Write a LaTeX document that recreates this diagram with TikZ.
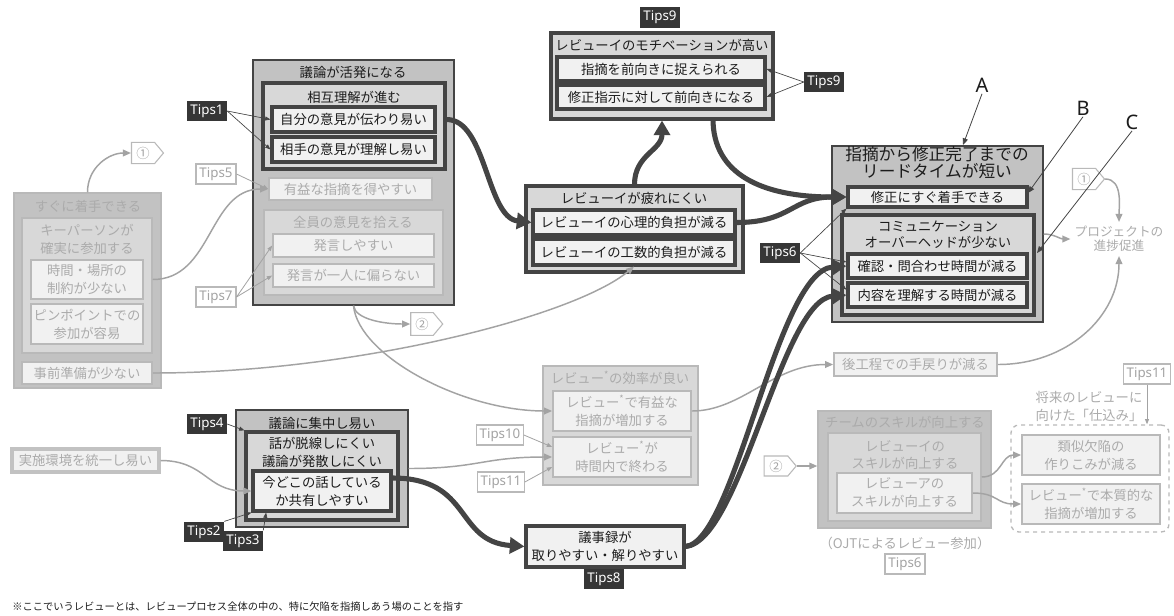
\documentclass[tikz,border=0pt]{standalone}
\usepackage{fontspec}
\setmainfont{Noto Sans CJK JP}
\newfontfamily\latinf{Noto Sans}
\usetikzlibrary{fit,arrows.meta,shapes.symbols}
\definecolor{gA}{HTML}{C2C2C2}
\definecolor{gB}{HTML}{D8D8D8}
\definecolor{gC}{HTML}{F1F1F1}
\definecolor{dk}{HTML}{444444}
\definecolor{tx}{HTML}{1C1C1C}
\definecolor{fT}{HTML}{ABABAB}
\definecolor{fB}{HTML}{B9B9B9}
\definecolor{fL}{HTML}{A3A3A3}
\definecolor{tipbg}{HTML}{363636}
\tikzset{
  bx/.style={inner sep=0pt, align=center, font=\fontsize{10}{13.5}\selectfont, text=tx},
  grpD/.style={bx, fill=gA, draw=dk, line width=1.1pt},
  midD/.style={bx, fill=gB, draw=dk, line width=2.3pt},
  leafD/.style={bx, fill=gC, draw=dk, line width=2.3pt},
  grpF/.style={bx, fill=gA, draw=fB, line width=1.1pt, text=fT},
  midF/.style={bx, fill=gB, draw=fB, line width=1.1pt, text=fT},
  leafF/.style={bx, fill=gC, draw=fB, line width=1.3pt, text=fT},
  ttl/.style={inner sep=0pt, align=center, font=\fontsize{10}{13.5}\selectfont, text=tx},
  ttlF/.style={ttl, text=fT},
  tipD/.style={fill=tipbg, text=white, font=\latinf\fontsize{10}{11}\selectfont, inner sep=0pt, minimum width=30pt, minimum height=15.5pt},
  tipL/.style={fill=white, draw=fB, line width=0.8pt, text=fL, font=\latinf\fontsize{10}{11}\selectfont, inner sep=0pt, minimum width=30pt, minimum height=15pt},
  tagbox/.style={signal, signal to=east, signal pointer angle=100, draw=fB, fill=white, text=fL, line width=0.8pt, inner sep=1pt, minimum width=24pt, minimum height=16pt, font=\fontsize{10}{11}\selectfont},
  tarr/.style={draw=dk, line width=3.8pt, -{Triangle[length=11pt,width=12pt]}},
  garr/.style={draw=fL, line width=1.1pt, -{Triangle[length=6pt,width=5pt]}},
  tl/.style={draw=dk, line width=0.5pt, -{Triangle[length=4pt,width=3pt]}},
  tlF/.style={draw=fL, line width=0.6pt, -{Triangle[length=4pt,width=3pt]}},
  labl/.style={font=\latinf\fontsize{15}{16}\selectfont, text=tx, inner sep=1pt},
}
% box by corners, with its text centred in a separate named node
\newcommand\bxn[5]{\node[#1, fit={#3 #4}] (#2) {};
  \node[#1, draw=none, fill=none] (#2t) at (#2.center) {#5};}
\begin{document}
\begin{tikzpicture}[x=0.75pt,y=-0.75pt]
\fill[white] (0,0) rectangle (1174,615);
\useasboundingbox (0,0) rectangle (1174,615);

% ---- left faded group
\node[grpF, fit={(14,193) (161,388)}] (grpA) {};
\node[ttlF] (grpAt) at (88,206) {すぐに着手できる};
\node[midF, fit={(22,218) (152,353)}] (keyb) {};
\node[ttlF] (keybt) at (87,239) {キーパーソンが\\確実に参加する};
\bxn{leafF}{jikan}{(31,260)}{(143,299)}{時間・場所の\\制約が少ない}
\bxn{leafF}{pin}{(31,304)}{(143,344)}{ピンポイントでの\\参加が容易}
\bxn{leafF}{jizen}{(22,362)}{(152,384)}{事前準備が少ない}
\node[tagbox] (tag1a) at (143,153) {①};

% ---- 議論が活発になる
\node[grpD, fit={(253,60) (454,305)}] (grpB) {};
\node[ttl] (grpBt) at (353,72) {議論が活発になる};
\node[midD, fit={(263,83) (445,169)}] (sogo) {};
\node[ttl] (sogot) at (354,97) {相互理解が進む};
\bxn{leafD}{jibun}{(272,107)}{(435,132)}{自分の意見が伝わり易い}
\bxn{leafD}{aite}{(272,137)}{(435,162)}{相手の意見が理解し易い}
\bxn{leafF}{yueki}{(269,178)}{(432,200)}{有益な指摘を得やすい}
\node[midF, fit={(264,210) (443,295)}] (zenin) {};
\node[ttlF] (zenint) at (353,222) {全員の意見を拾える};
\bxn{leafF}{hatsu1}{(273,234)}{(434,257)}{発言しやすい}
\bxn{leafF}{hatsu2}{(273,264)}{(434,287)}{発言が一人に偏らない}
\node[tipD] (t1) at (207,111) {Tips1};
\node[tipL] (t5) at (216,174) {Tips5};
\node[tipL] (t7) at (216,297) {Tips7};
\node[tagbox, minimum height=17pt] (tag2a) at (422,324) {②};

% ---- モチベーション
\node[midD, fit={(551,33) (773,119)}] (moti) {};
\node[ttl] (motit) at (662,45) {レビューイのモチベーションが高い};
\bxn{leafD}{shiteki}{(557,57)}{(765,81)}{指摘を前向きに捉えられる}
\bxn{leafD}{shusei}{(557,85)}{(765,109)}{修正指示に対して前向きになる}
\node[tipD] (t9top) at (660,17.5) {Tips9};
\node[tipD] (t9r) at (824,82) {Tips9};

% ---- 疲れにくい
\node[midD, fit={(526,186) (743,272)}] (tsukare) {};
\node[ttl] (tsukaret) at (634,198) {レビューイが疲れにくい};
\bxn{leafD}{shinri}{(533,210)}{(735,235)}{レビューイの心理的負担が減る}
\bxn{leafD}{kosu}{(533,239)}{(735,265)}{レビューイの工数的負担が減る}
\node[tipD] (t6d) at (780,253) {Tips6};

% ---- リードタイム
\node[grpD, fit={(832,146) (1043,322)}] (big) {};
\node[ttl, font=\fontsize{12.5}{10.5}\selectfont] (bigt) at (937,163) {指摘から修正完了までの\\リードタイムが短い};
\bxn{leafD}{sugu}{(848,187)}{(1027,207)}{修正にすぐ着手できる}
\node[midD, fit={(842,215) (1034,315)}] (comm) {};
\node[ttl, font=\fontsize{10}{12}\selectfont] (commt) at (938,235) {コミュニケーション\\オーバーヘッドが少ない};
\bxn{leafD}{kakunin}{(848,254)}{(1027,278)}{確認・問合わせ時間が減る}
\bxn{leafD}{naiyo}{(848,283)}{(1027,307)}{内容を理解する時間が減る}
\node[labl] (lA) at (982,85) {A};
\node[labl] (lB) at (1083,108) {B};
\node[labl] (lC) at (1132,122) {C};
\node[tagbox] (tag1b) at (1084,179) {①};
\node[ttlF, font=\fontsize{9.5}{10.5}\selectfont, inner sep=3pt] (proj) at (1119,239) {プロジェクトの\\進捗促進};

% ---- 効率
\node[midF, fit={(543,366) (698,485)}] (kouritsu) {};
\node[ttlF] (kouritsut) at (620,378) {レビュー\textsuperscript{*}の効率が良い};
\bxn{leafF}{kouyue}{(553,391)}{(691,431)}{レビュー\textsuperscript{*}で有益な\\指摘が増加する}
\bxn{leafF}{jikannai}{(553,437)}{(691,477)}{レビュー\textsuperscript{*}が\\時間内で終わる}
\node[tipL, minimum width=35pt] (t10) at (500,435) {Tips10};
\node[tipL, minimum width=35pt] (t11) at (501,482) {Tips11};
\bxn{leafF}{atokotei}{(834,353)}{(997,376)}{後工程での手戻りが減る}

% ---- 議論に集中し易い
\node[grpD, fit={(236,410) (408,527)}] (shuchu) {};
\node[ttl] (shuchut) at (322,423) {議論に集中し易い};
\node[midD, fit={(246,432) (398,520)}] (dasen) {};
\node[ttl] (dasent) at (322,452) {話が脱線しにくい\\議論が発散しにくい};
\bxn{leafD}{ima}{(253,471)}{(391,511)}{今どこの話している\\か共有しやすい}
\node[tipD] (t4) at (207,424) {Tips4};
\node[tipD] (t2) at (204,532) {Tips2};
\node[tipD] (t3) at (243,541) {Tips3};
\bxn{leafF, draw=gB!90!black, line width=2.3pt}{jisshi}{(12,449)}{(159,472)}{実施環境を統一し易い}
\bxn{leafD}{gijiroku}{(526,526)}{(684,567)}{議事録が\\取りやすい・解りやすい}
\node[tipD] (t8) at (604,579) {Tips8};

% ---- チームのスキル
\node[grpF, fit={(818,411) (991,528)}] (skill) {};
\node[ttlF] (skillt) at (905,422) {チームのスキルが向上する};
\node[midF, fit={(828,433) (981,521)}] (reviewee) {};
\node[ttlF, font=\fontsize{10}{12.75}\selectfont] (revieweet) at (905,455) {レビューイの\\スキルが向上する};
\bxn{leafF}{reviewer}{(837,473)}{(972,513)}{レビューアの\\スキルが向上する}
\node[tagbox, minimum height=15pt] (tag2b) at (776,466) {②};
\node[ttlF] (ojt) at (905,543) {（OJTによるレビュー参加）};
\node[tipL] (t6l) at (905,564) {Tips6};

% ---- 仕込み
\node[draw=fB, dashed, line width=1pt, rounded corners=6pt, inner sep=0pt, fit={(1011,425) (1169,532)}] (shikomi) {};
\node[ttlF] (shikomit) at (1089,406) {将来のレビューに\\向けた「仕込み」};
\node[tipL, minimum width=35pt] (t11r) at (1147,374) {Tips11};
\bxn{leafF}{ruiji}{(1022,435)}{(1160,475)}{類似欠陥の\\作りこみが減る}
\bxn{leafF}{honshitsu}{(1022,484)}{(1160,524)}{レビュー\textsuperscript{*}で本質的な\\指摘が増加する}

% ---- footnote
\node[anchor=west, inner sep=0pt, font=\fontsize{7.7}{9}\selectfont, text=tx] (note) at (12,607) {※ここでいうレビューとは、レビュープロセス全体の中の、特に欠陥を指摘しあう場のことを指す};

% ---- coordinates for free ends
\coordinate (Aend) at (963,145);
\coordinate (Bend) at (1028,193);
\coordinate (Cend) at (1037,253);
\coordinate (motiB) at (713,119);

% ---- gray connectors
\draw[garr] (grpA.north) .. controls +(0,-25) and +(-22,0) .. (tag1a.west);
\draw[garr] (keyb.east |- jikan.east) .. controls +(60,0) and +(-60,0) .. (yueki.west);
\draw[garr] (jizen.east) .. controls +(200,0) and +(-60,50) .. (kosu.south);
\draw[garr] (grpB.south) .. controls +(2,14) and +(-25,0) .. (tag2a.west);
\draw[garr] (grpB.south) .. controls +(5,50) and +(-90,0) .. (kouyue.west);
\draw[garr] (shuchu.east) .. controls +(70,0) and +(-70,0) .. (jikannai.west);
\draw[garr] (jisshi.east) .. controls +(45,0) and +(-45,0) .. (ima.west);
\draw[garr] (kouyue.east) .. controls +(50,0) and +(-60,0) .. (atokotei.west);
\draw[garr] (atokotei.east) .. controls +(70,0) and +(0,60) .. (proj.south);
\draw[garr] (big.east) .. controls +(10,0) and +(-10,0) .. (proj.west);
\draw[garr] (tag1b.east) .. controls +(18,0) and +(0,-15) .. (proj.north);
\draw[garr] (tag2b.east) -- (skill.west |- tag2b.east);
\draw[garr] (reviewee.east) .. controls +(20,0) and +(-20,0) .. (ruiji.west);
\draw[garr] (reviewer.east) .. controls +(25,0) and +(-25,0) .. (honshitsu.west);

% ---- tips connectors
\draw[tl] (t1.east) -- (jibun.west);
\draw[tl] (t1.east) -- (aite.west);
\draw[tlF] (t5.east) -- (yueki.west);
\draw[tlF] (t7.east) -- (hatsu1.west);
\draw[tlF] (t7.east) -- (hatsu2.west);
\draw[tl] (t9r.west) -- (shiteki.east);
\draw[tl] (t9r.west) -- (shusei.east);
\draw[tl] (t6d.east) -- (sugu.south west);
\draw[tl] (t6d.east) -- ([yshift=3pt]kakunin.west);
\draw[tl] (t6d.east) -- ([yshift=4pt]naiyo.west);
\draw[tl] (t4.east) -- (dasen.north west);
\draw[tl] (t2.north east) -- (ima.south west);
\draw[tl] (t3.north east) -- ([xshift=11pt]ima.south west);
\draw[tlF] (t10.east) -- ([yshift=7.5pt]jikannai.west);
\draw[tlF] (t11.east) -- ([yshift=-7.5pt]jikannai.west);
\draw[tlF] (t11r.south) -- (t11r.south |- shikomi.north);
\draw[tl, line width=0.6pt, -{Triangle[length=5pt,width=4pt]}] (lA.south) -- (Aend);
\draw[tl, line width=0.6pt, -{Triangle[length=5pt,width=4pt]}] (lB.south) -- (Bend);
\draw[tl, line width=0.6pt, -{Triangle[length=5pt,width=4pt]}] (lC.south) -- (Cend);

% ---- thick connectors
\draw[tarr] (sogo.east |- jibun.east) .. controls +(40,0) and +(-45,-5) .. (shinri.west);
\draw[tarr] (tsukare.north) .. controls +(0,-30) and +(0,30) .. (moti.south);
\draw[tarr] (motiB) .. controls +(0,55) and +(-85,0) .. (sugu.west);
\draw[tarr] (shinri.east) .. controls +(55,0) and +(-55,0) .. (sugu.west);
\draw[tarr] ([yshift=9.75pt]ima.east) .. controls +(80,0) and +(-70,-5) .. (gijiroku.west);
\draw[tarr] (gijiroku.east) .. controls +(50,-5) and +(-70,5) .. (kakunin.west);
\draw[tarr] (gijiroku.east) .. controls +(55,-5) and +(-65,5) .. (naiyo.west);
\end{tikzpicture}
\end{document}
